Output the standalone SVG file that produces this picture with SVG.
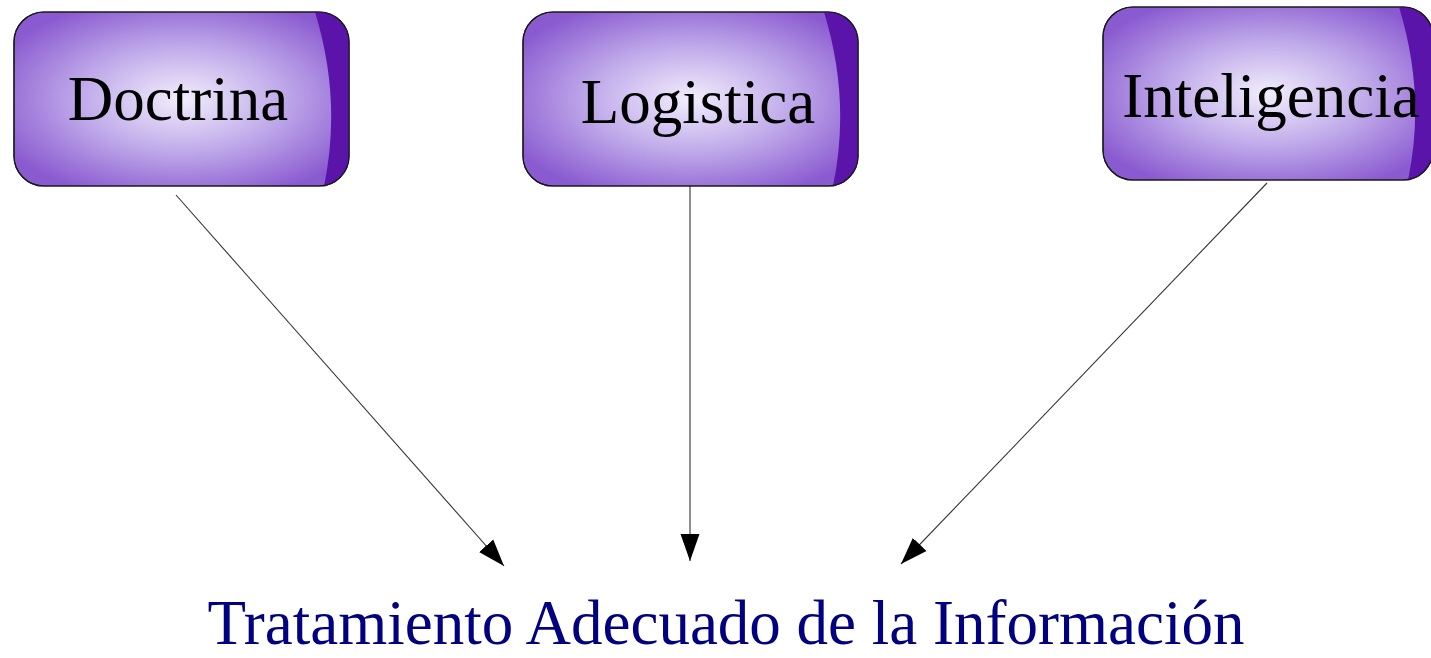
<svg xmlns="http://www.w3.org/2000/svg" width="1431" height="658" viewBox="0 0 1431 658">
<style>
.box{fill:url(#rg);stroke:#1a1a1a;stroke-width:1.2}
.band{fill:#5b14aa}
.lbl{font-family:"Liberation Serif","Times New Roman",serif;font-size:63px;fill:#000;text-anchor:middle}
.edge{stroke:#333;stroke-width:1.1;fill:none;marker-end:url(#ah)}
.title{font-family:"Liberation Serif","Times New Roman",serif;font-size:63px;fill:#000080;text-anchor:middle}
</style>
<defs>
<radialGradient id="rg" cx="0.5" cy="0.5" r="0.6">
<stop offset="0" stop-color="#f2eefc"/>
<stop offset="0.5" stop-color="#c0aaea"/>
<stop offset="1" stop-color="#8a5ad0"/>
</radialGradient>
<clipPath id="c1" clipPathUnits="userSpaceOnUse"><rect x="0" y="0" width="335" height="174" rx="30"/></clipPath>
<clipPath id="c2" clipPathUnits="userSpaceOnUse"><rect x="0" y="0" width="330" height="173" rx="30"/></clipPath>
<marker id="ah" markerUnits="userSpaceOnUse" markerWidth="28" markerHeight="20" refX="27" refY="9.5" orient="auto" viewBox="0 0 28 19">
<path d="M0,0 L27,9.5 L0,19 Z" fill="#000"/>
</marker>
</defs>
<g id="connectors">
<line class="edge" x1="176" y1="195" x2="504" y2="566"/>
<line class="edge" x1="690" y1="186" x2="690" y2="561"/>
<line class="edge" x1="1267" y1="183" x2="901" y2="564"/>
</g>
<g id="doctrina" transform="translate(14,12)">
<rect class="box" x="0" y="0" width="335" height="174" rx="30"/>
<path class="band" clip-path="url(#c1)" d="M301,0 Q328,88 310,174 L340,174 L340,0 Z"/>
<rect x="0" y="0" width="335" height="174" rx="30" fill="none" stroke="#1a1a1a" stroke-width="1.2"/>
<text class="lbl" x="164" y="108">Doctrina</text>
</g>
<g id="logistica" transform="translate(523,12)">
<rect class="box" x="0" y="0" width="335" height="174" rx="30"/>
<path class="band" clip-path="url(#c1)" d="M301,0 Q328,88 310,174 L340,174 L340,0 Z"/>
<rect x="0" y="0" width="335" height="174" rx="30" fill="none" stroke="#1a1a1a" stroke-width="1.2"/>
<text class="lbl" x="175" y="111">Logistica</text>
</g>
<g id="inteligencia" transform="translate(1103,7)">
<rect class="box" x="0" y="0" width="330" height="173" rx="30"/>
<path class="band" clip-path="url(#c2)" d="M296,0 Q323,88 305,173 L335,173 L335,0 Z"/>
<rect x="0" y="0" width="330" height="173" rx="30" fill="none" stroke="#1a1a1a" stroke-width="1.2"/>
<text class="lbl" x="168" y="110">Inteligencia</text>
</g>
<g id="tratamiento">
<text class="title" x="726" y="644">Tratamiento Adecuado de la Información</text>
</g>
</svg>
